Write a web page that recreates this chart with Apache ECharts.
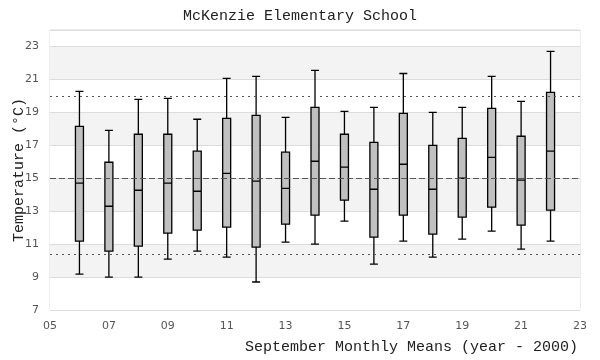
<!DOCTYPE html>
<html><head><meta charset="utf-8">
<script src="https://cdn.jsdelivr.net/npm/echarts@6/dist/echarts.min.js"></script>
<style>html,body{margin:0;padding:0;background:#fff}#c{width:600px;height:360px}</style>
</head><body><div id="c"></div>
<script>
const years  = [6, 7, 8, 9, 10, 11, 12, 13, 14, 15, 16, 17, 18, 19, 20, 21, 22];
const mins   = [9.18, 9.0, 9.0, 10.09, 10.58, 10.21, 8.70, 11.12, 11.0, 12.39, 9.79, 11.18, 10.21, 11.30, 11.79, 10.70, 11.18];
const q1s    = [11.18, 10.58, 10.88, 11.67, 11.85, 12.03, 10.82, 12.21, 12.76, 13.67, 11.42, 12.76, 11.61, 12.64, 13.24, 12.15, 13.06];
const medians= [14.70, 13.30, 14.27, 14.70, 14.21, 15.30, 14.82, 14.39, 16.03, 15.67, 14.33, 15.85, 14.33, 15.0, 16.27, 14.88, 16.64];
const q3s    = [18.15, 15.97, 17.67, 17.67, 16.64, 18.64, 18.82, 16.58, 19.30, 17.67, 17.18, 18.94, 17.0, 17.42, 19.24, 17.55, 20.21];
const maxs   = [20.27, 17.91, 19.79, 19.85, 18.58, 21.06, 21.18, 18.70, 21.55, 19.06, 19.30, 21.36, 19.0, 19.30, 21.18, 19.67, 22.70];
const refUpper = 20.0, refMean = 15.0, refLower = 10.4;

const boxData = years.map((y, i) => [y, mins[i], q1s[i], medians[i], q3s[i], maxs[i]]);
const mono = 'Liberation Mono';
const chart = echarts.init(document.getElementById('c'), null, {renderer: 'canvas'});
chart.setOption({
  animation: false,
  backgroundColor: '#fff',
  title: {
    text: 'McKenzie Elementary School', left: 'center', top: 4,
    textStyle: {fontFamily: mono, fontSize: 15, fontWeight: 'normal', color: '#222'}
  },
  grid: {left: 50, right: 20, top: 30, bottom: 50, containLabel: false, outerBoundsMode: 'none',
    show: true, borderColor: '#dcdcdc', borderWidth: 1, backgroundColor: 'transparent'},
  xAxis: {
    type: 'value', min: 5, max: 23, interval: 2,
    name: 'September Monthly Means (year - 2000)', nameLocation: 'middle', nameGap: 30, nameMoveOverlap: false,
    nameTextStyle: {fontFamily: mono, fontSize: 15, color: '#222', padding: [0, 0, 0, 193]},
    axisLine: {show: false}, axisTick: {show: false}, splitLine: {show: false},
    axisLabel: {margin: 11, fontFamily: 'DejaVu Sans', fontSize: 11, color: '#555',
      formatter: v => String(v).padStart(2, '0')}
  },
  yAxis: {
    type: 'value', min: 7, max: 24, interval: 2,
    name: 'Temperature (°C)', nameLocation: 'middle', nameGap: 23, nameMoveOverlap: false,
    nameTextStyle: {fontFamily: mono, fontSize: 15, color: '#222'},
    axisLine: {show: false}, axisTick: {show: false},
    axisLabel: {margin: 11, fontFamily: 'DejaVu Sans', fontSize: 11, color: '#555', showMaxLabel: false},
    splitLine: {show: true, lineStyle: {color: '#dcdcdc', width: 1}},
    splitArea: {show: true, areaStyle: {color: ['#ffffff', '#f3f3f3']}}
  },
  series: [
    {
      type: 'line', data: [], silent: true,
      markLine: {
        silent: true, symbol: 'none', label: {show: false},
        data: [
          {yAxis: refUpper, lineStyle: {type: [2, 4], color: '#555', width: 1}},
          {yAxis: refMean, lineStyle: {type: [6, 3], color: '#555', width: 1}},
          {yAxis: refLower, lineStyle: {type: [2, 4], color: '#555', width: 1}}
        ]
      }
    },
    {
      type: 'boxplot', data: boxData, boxWidth: [8, 8],
      itemStyle: {color: '#c0c0c0', borderColor: '#000', borderWidth: 1.3},
      z: 3
    }
  ]
});
</script></body></html>
